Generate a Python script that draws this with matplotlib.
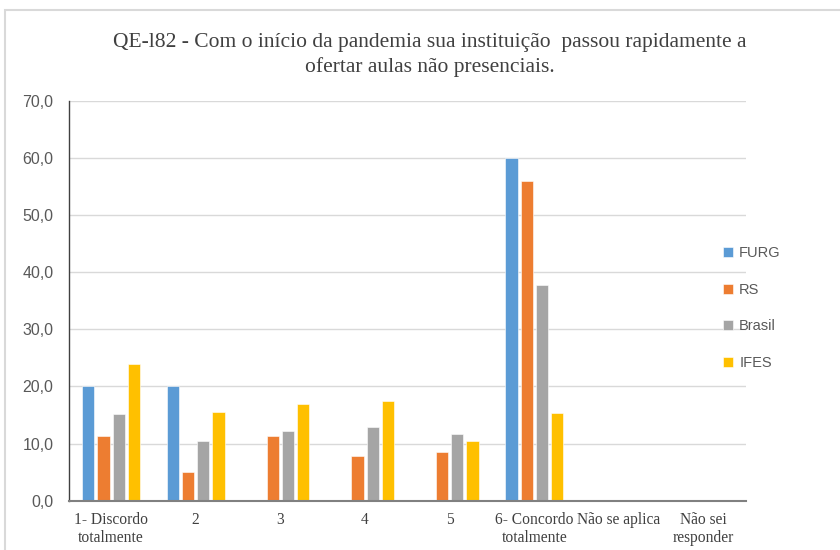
import matplotlib.pyplot as plt
import numpy as np

categorias = ['1- Discordo\ntotalmente', '2', '3', '4', '5',
              '6- Concordo\ntotalmente', 'Não se aplica', 'Não sei\nresponder']
series = ['FURG', 'RS', 'Brasil', 'IFES']
furg = [20.0, 20.0, 0.0, 0.0, 0.0, 60.0, 0.0, 0.0]
rs = [11.4, 5.0, 11.4, 7.8, 8.5, 56.0, 0.0, 0.0]
brasil = [15.2, 10.4, 12.2, 12.9, 11.6, 37.7, 0.0, 0.0]
ifes = [24.0, 15.5, 17.0, 17.5, 10.4, 15.4, 0.0, 0.0]
cores = ['#5B9BD5', '#ED7D31', '#A5A5A5', '#FFC000']

fig = plt.figure(figsize=(8.4, 5.5), dpi=100)
# borda do gráfico
fig.patches.append(plt.Rectangle((5 / 840, -0.05), 1.1, 1.05 - 10 / 550,
                                 transform=fig.transFigure, fill=False,
                                 edgecolor='#d9d9d9', linewidth=1.5))

ax = fig.add_axes([68.7 / 840, 1 - 500.7 / 550, (746 - 68.7) / 840, 400 / 550])

x = np.arange(len(categorias))
passo = 0.18
largura = 0.145
for i, (nome, vals) in enumerate(zip(series, [furg, rs, brasil, ifes])):
    ax.bar(x + (i - 1.5) * passo, vals, largura, color=cores[i], label=nome,
           edgecolor='white', linewidth=0.4)

ax.set_xlim(-0.5, len(categorias) - 0.5)
ax.set_ylim(0, 70)
ax.set_yticks(range(0, 71, 10))
ax.set_yticklabels([f'{v:.1f}'.replace('.', ',') for v in range(0, 71, 10)],
                   family='Liberation Sans', fontsize=11.5, color='#595959')
ax.set_xticks(x)
ax.set_xticklabels(categorias, family='Liberation Serif', fontsize=11.2,
                   color='#404040', linespacing=1.2)
ax.tick_params(axis='both', length=0)
ax.tick_params(axis='y', pad=11)
ax.tick_params(axis='x', pad=8)

ax.grid(axis='y', color='#d9d9d9', linewidth=1)
ax.set_axisbelow(True)
for lado in ['top', 'right']:
    ax.spines[lado].set_visible(False)
ax.spines['left'].set_color('#404040')
ax.spines['left'].set_linewidth(1)
ax.spines['bottom'].set_color('#808080')
ax.spines['bottom'].set_linewidth(1.5)

fig.text(430 / 840, 1 - 55 / 550,
         'QE-l82 - Com o início da pandemia sua instituição  passou rapidamente a\n'
         'ofertar aulas não presenciais.',
         ha='center', va='center', family='Liberation Serif', fontsize=15.5,
         color='#404040', linespacing=1.3)

leg = fig.legend(loc='upper left', bbox_to_anchor=(710 / 840, 1 - 233 / 550),
                 frameon=False, prop={'family': 'Liberation Sans', 'size': 10.5},
                 handlelength=0.7, handleheight=0.7, handletextpad=0.4,
                 labelspacing=1.55, labelcolor='#595959')

fig.savefig('out.png', dpi=100)
